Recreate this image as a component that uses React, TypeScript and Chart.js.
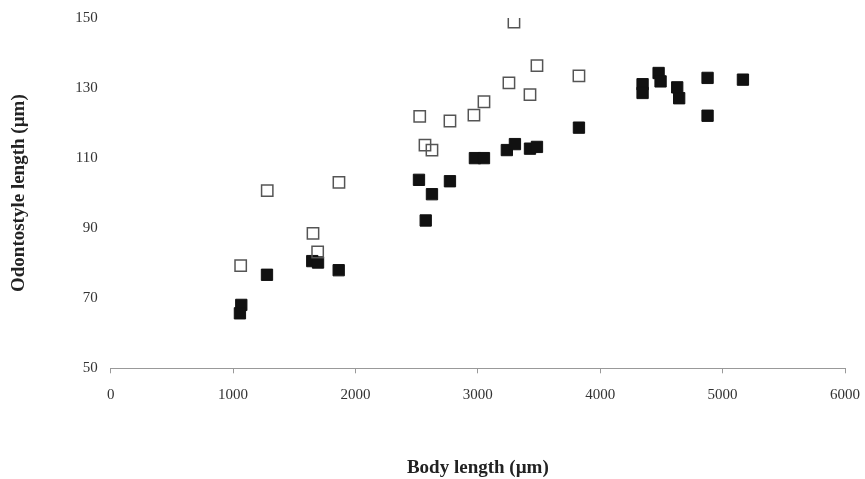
import React, { useEffect, useRef } from "react";
import { Chart, registerables } from "chart.js";

Chart.register(...registerables);

// Open squares series
const openX = [1062, 1279, 1865, 1653, 1691, 2525, 2568, 2625, 2772, 2968, 3050, 3254, 3295, 3426, 3483, 3826];
const openY = [79.3, 100.7, 103.1, 88.5, 83.2, 121.9, 113.7, 112.3, 120.6, 122.3, 126.1, 131.5, 148.8, 128.1, 136.4, 133.5];

// Filled squares series
const filledX = [1067, 1056, 1277, 1647, 1694, 1863, 2519, 2625, 2574, 2772, 2976, 3050, 3237, 3303, 3426, 3483, 3826, 4346, 4346, 4477, 4493, 4629, 4645, 4877, 4877, 5166];
const filledY = [68.1, 65.7, 76.7, 80.6, 80.2, 78.0, 103.8, 99.7, 92.2, 103.4, 110.0, 110.0, 112.3, 114.0, 112.7, 113.2, 118.7, 131.1, 128.6, 134.3, 131.9, 130.2, 127.1, 132.9, 122.1, 132.4];

const xTitle = "Body length (µm)";
const yTitle = "Odontostyle length (µm)";

const FONT = "'Liberation Serif', 'Times New Roman', serif";

export default function App() {
  const ref = useRef<HTMLCanvasElement | null>(null);

  useEffect(() => {
    if (!ref.current) return;
    const toPts = (xs: number[], ys: number[]) => xs.map((x, i) => ({ x, y: ys[i] }));
    const chart = new Chart(ref.current, {
      type: "scatter",
      data: {
        datasets: [
          {
            label: "open",
            data: toPts(openX, openY),
            pointStyle: "rect",
            pointRadius: 8,
            borderWidth: 1.5,
            borderColor: "#555",
            backgroundColor: "rgba(255,255,255,0)",
          },
          {
            label: "filled",
            data: toPts(filledX, filledY),
            pointStyle: "rect",
            pointRadius: 8,
            borderWidth: 1,
            borderColor: "#111",
            backgroundColor: "#111",
          },
        ],
      },
      options: {
        animation: false,
        responsive: false,
        maintainAspectRatio: false,
        layout: { padding: { top: 18, right: 20, left: 0, bottom: 0 } },
        plugins: {
          legend: { display: false },
          tooltip: { enabled: false },
        },
        scales: {
          x: {
            type: "linear",
            min: 0,
            max: 6000,
            afterFit: (s: any) => {
              s.height = 110.7;
              s.paddingLeft = 0;
              s.paddingRight = 0;
            },
            ticks: {
              stepSize: 1000,
              color: "#333",
              font: { family: FONT, size: 15 },
              padding: 13,
              maxRotation: 0,
              callback: (v: any) => String(v),
            },
            grid: {
              display: true,
              drawOnChartArea: false,
              drawTicks: true,
              tickLength: 5,
              color: "#999",
            },
            border: { display: true, color: "#999", width: 1 },
            title: {
              display: true,
              text: xTitle,
              color: "#222",
              font: { family: FONT, size: 19, weight: "bold" },
              padding: { top: 4, bottom: 0 },
            },
          },
          y: {
            type: "linear",
            min: 50,
            max: 150,
            afterFit: (s: any) => {
              s.width = 110.7;
              s.paddingTop = 0;
              s.paddingBottom = 0;
            },
            ticks: {
              stepSize: 20,
              color: "#333",
              font: { family: FONT, size: 15 },
              padding: 13,
            },
            grid: { display: false, drawTicks: false },
            border: { display: false },
            title: {
              display: true,
              text: yTitle,
              color: "#222",
              font: { family: FONT, size: 19, weight: "bold" },
              padding: { top: 8, bottom: 4 },
            },
          },
        },
      },
    });
    return () => chart.destroy();
  }, []);

  return (
    <div style={{ position: "fixed", left: 0, top: 0, width: 865, height: 479, background: "#fff" }}>
      <canvas ref={ref} width={865} height={479} style={{ width: 865, height: 479, display: "block" }} />
    </div>
  );
}
